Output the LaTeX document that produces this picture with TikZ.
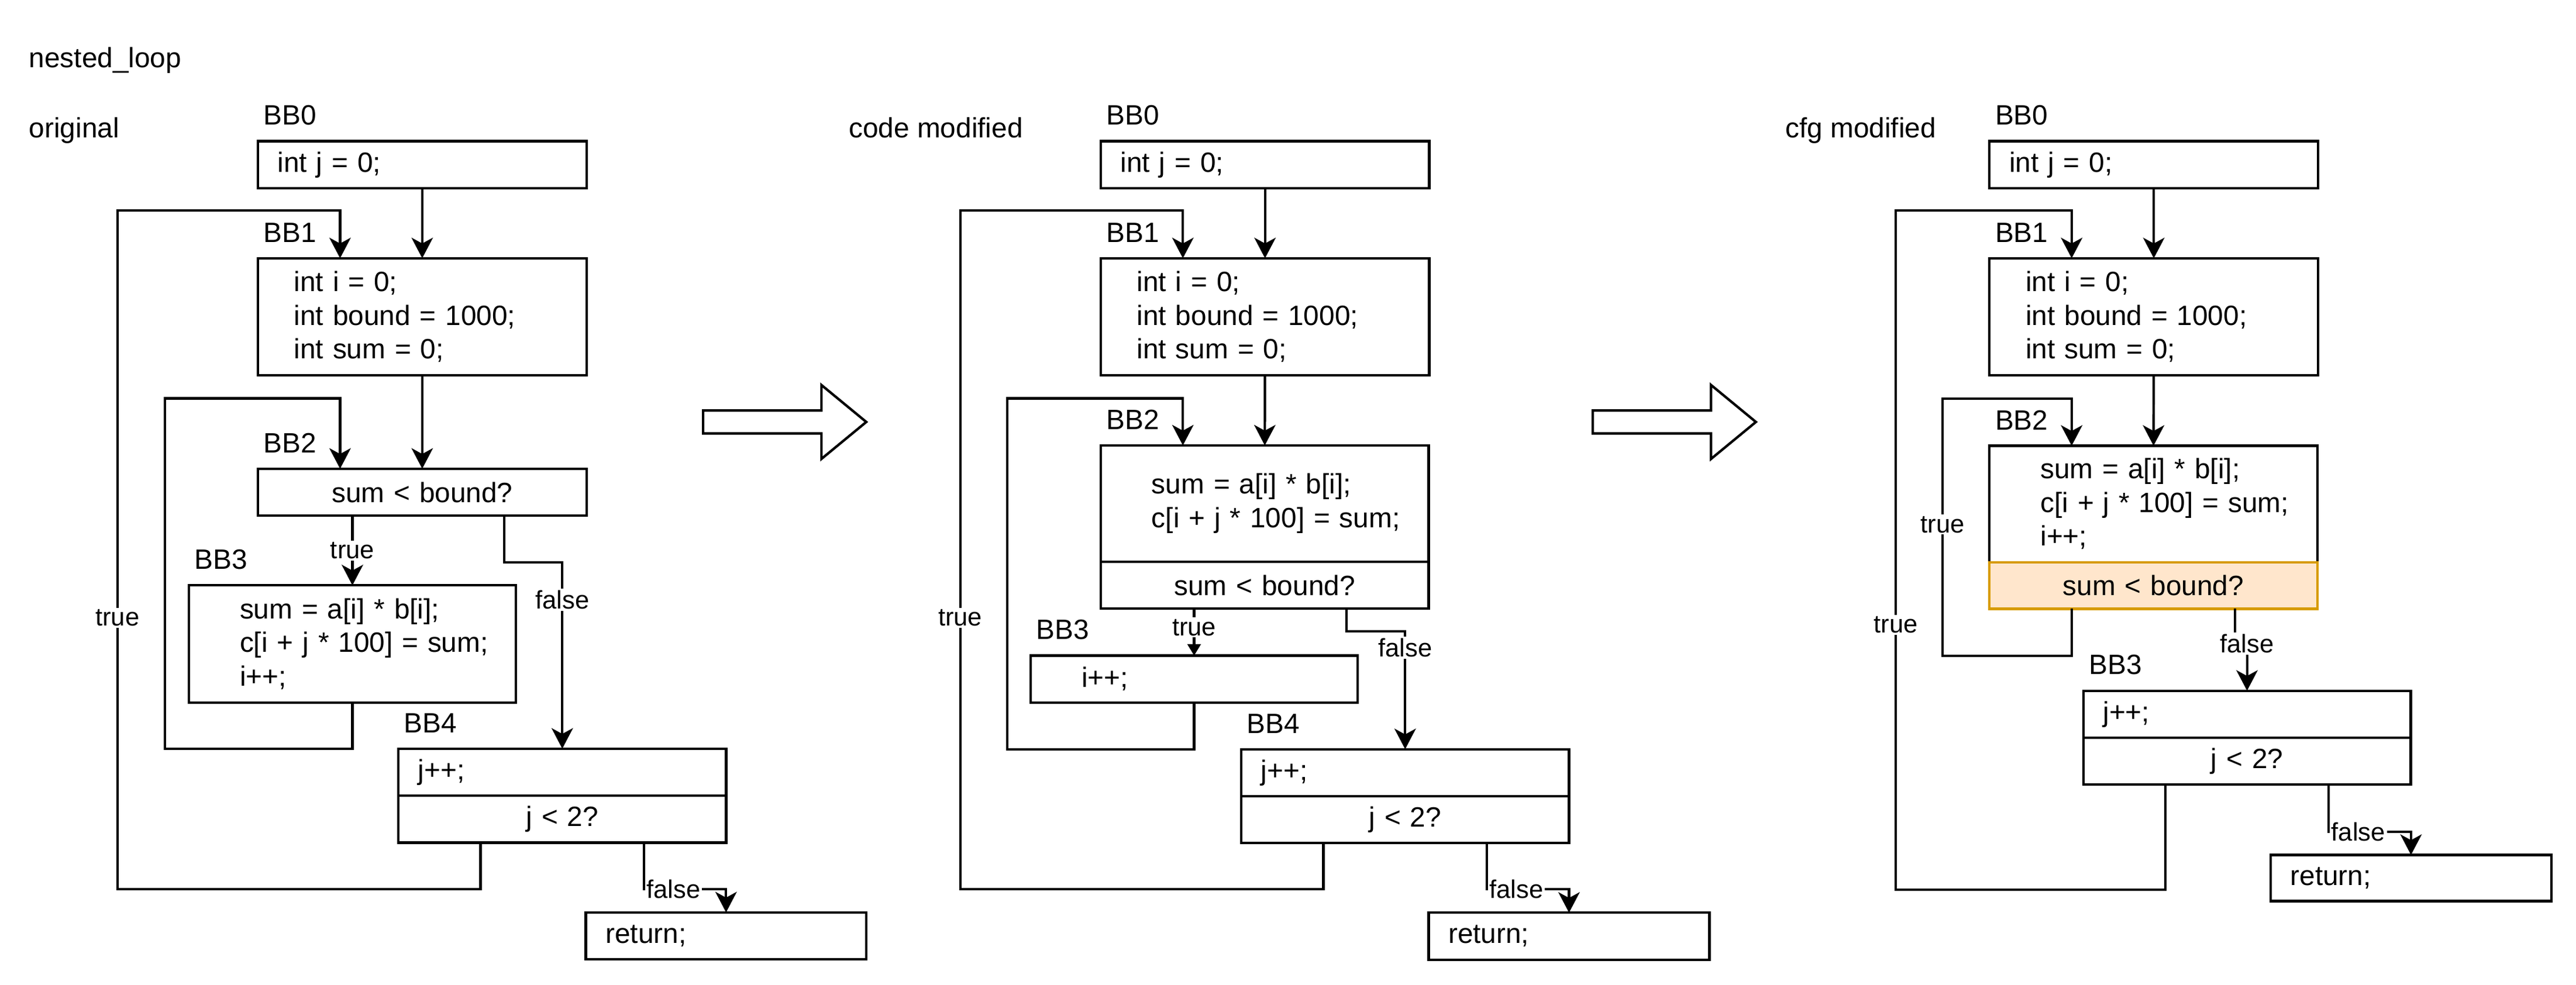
\documentclass[tikz,border=0pt]{standalone}
\usepackage{fontspec}
\setmainfont{Liberation Sans}
\usetikzlibrary{arrows.meta,positioning}
\definecolor{condfill}{HTML}{FFE6CC}
\definecolor{condline}{HTML}{D79B00}
\tikzset{
	bbox/.style = {draw, fill=white, rectangle, anchor=north west, outer sep=0pt, inner ysep=0pt, align=left, minimum height=28.6pt},
	stmt/.style 2 args = {bbox, text width=#1, inner xsep=#2},
	cond/.style = {bbox, align=center, inner xsep=0pt},
	hot/.style = {cond, fill=condfill, draw=condline},
	bbname/.style = {inner sep=0pt, anchor=base west},
	elabel/.style = {fill=white, inner sep=1pt, font=\fontsize{15.5}{18}\selectfont},
	flow/.style = {-{Stealth[length=12.5pt, width=13pt, inset=3.5pt]}},
	flowsmall/.style = {-{Triangle[length=7pt, width=8pt]}}
}
\begin{document}
\begin{tikzpicture}[x=1pt, y=-1pt, line width=1.5pt, font=\fontsize{17}{20.5}\selectfont]
	\useasboundingbox (0,0) rectangle (1568,599.6);
	\node[bbname] (title) at (17,41) {nested\_loop};
	\node[bbname] (orig) at (17,84) {original};
	\node[bbname] (codemod) at (516,84) {code modified};
	\node[bbname] (cfgmod) at (1086,84) {cfg modified};

	% original
	\node[stmt={176pt}{12pt}] (a0) at (157,86) {int j = 0;};
	\node[stmt={156pt}{22pt}, minimum height=71.4pt] (a1) at (157,157.3) {int i = 0;\\int bound = 1000;\\int sum = 0;};
	\node[cond, text width=200pt] (a2) at (157,285.5) {sum < bound?};
	\node[stmt={137pt}{31pt}, minimum height=71.5pt] (a3) at (115,356.5) {sum = a[i] * b[i];\\\mbox{c[i + j * 100] = sum;}\\i++;};
	\node[stmt={175.5pt}{12pt}] (a4t) at (242.5,456) {j++;};
	\node[cond, text width=199.5pt, below=0pt of a4t] (a4c) {j < 2?};
	\node[stmt={146.7pt}{12pt}] (ar) at (356.6,555.7) {return;};
	\node[bbname, above right=9pt and 2.7pt of a0.north west] (la0) {BB0};
	\node[bbname, above right=9pt and 2.7pt of a1.north west] (la1) {BB1};
	\node[bbname, above right=9pt and 2.7pt of a2.north west] (la2) {BB2};
	\node[bbname, above right=9pt and 2.7pt of a3.north west] (la3) {BB3};
	\node[bbname, above right=9pt and 2.7pt of a4t.north west] (la4) {BB4};
	\draw[flow] (a0) -- (a1);
	\draw[flow] (a1) -- (a2);
	\draw[flow] (a3.north |- a2.south) -- node[elabel] (at1) {true} (a3);
	\draw[flow] ([xshift=-50pt]a2.south east) -- ++(0,28.4) -| node[elabel, pos=0.6] (af1) {false} (a4t);
	\draw[flow] (a3.south) -- ++(0,28) -| (100.5,242.6) -| ([xshift=50pt]a2.north west);
	\draw[flow] ([xshift=50pt]a4c.south west) -- ++(0,28.4) -| node[elabel, pos=0.7] (at2) {true} (71.5,128.3) -| ([xshift=50pt]a1.north west);
	\draw[flow] ([xshift=-50pt]a4c.south east) -- ++(0,28.4) -| node[elabel, pos=0.18] (af2) {false} (ar);

	% code modified
	\draw (428,250) -- (500,250) -- (500,234.5) -- (527.3,257) -- (500,279.5) -- (500,264) -- (428,264) -- cycle;
	\node[stmt={176pt}{12pt}] (b0) at (670,86) {int j = 0;};
	\node[stmt={156pt}{22pt}, minimum height=71.4pt] (b1) at (670,157.3) {int i = 0;\\int bound = 1000;\\int sum = 0;};
	\node[stmt={137.6pt}{31pt}, minimum height=70.8pt] (b2t) at (670,271.3) {sum = a[i] * b[i];\\\mbox{c[i + j * 100] = sum;}};
	\node[cond, text width=199.6pt, below=0pt of b2t] (b2c) {sum < bound?};
	\node[stmt={136.9pt}{31pt}] (b3) at (627.4,399.3) {i++;};
	\node[stmt={175.6pt}{12pt}] (b4t) at (755.5,456.3) {j++;};
	\node[cond, text width=199.6pt, below=0pt of b4t] (b4c) {j < 2?};
	\node[stmt={146.9pt}{12pt}] (br) at (869.6,555.9) {return;};
	\node[bbname, above right=9pt and 2.7pt of b0.north west] (lb0) {BB0};
	\node[bbname, above right=9pt and 2.7pt of b1.north west] (lb1) {BB1};
	\node[bbname, above right=9pt and 2.7pt of b2t.north west] (lb2) {BB2};
	\node[bbname, above right=9pt and 2.7pt of b3.north west] (lb3) {BB3};
	\node[bbname, above right=9pt and 2.7pt of b4t.north west] (lb4) {BB4};
	\draw[flow] (b0) -- (b1);
	\draw[flow] (b1) -- (b2t);
	\draw[flowsmall] (b3.north |- b2c.south) -- node[elabel, pos=0.4] (bt1) {true} (b3);
	\draw[flow] ([xshift=-50pt]b2c.south east) -- ++(0,13.8) -| node[elabel, pos=0.57] (bf1) {false} (b4t);
	\draw[flow] (b3.south) -- ++(0,28.4) -| (613.1,242.6) -| ([xshift=50pt]b2t.north west);
	\draw[flow] ([xshift=50pt]b4c.south west) -- ++(0,28.1) -| node[elabel, pos=0.7] (bt2) {true} (584.5,128.3) -| ([xshift=50pt]b1.north west);
	\draw[flow] ([xshift=-50pt]b4c.south east) -- ++(0,28.1) -| node[elabel, pos=0.18] (bf2) {false} (br);

	% cfg modified
	\draw (969.5,250) -- (1041.5,250) -- (1041.5,234.5) -- (1068.8,257) -- (1041.5,279.5) -- (1041.5,264) -- (969.5,264) -- cycle;
	\node[stmt={176pt}{12pt}] (c0) at (1211,86) {int j = 0;};
	\node[stmt={156pt}{22pt}, minimum height=71.4pt] (c1) at (1211,157.3) {int i = 0;\\int bound = 1000;\\int sum = 0;};
	\node[stmt={137.5pt}{31pt}, minimum height=70.9pt] (c2t) at (1211,271.5) {sum = a[i] * b[i];\\\mbox{c[i + j * 100] = sum;}\\i++;};
	\node[hot, text width=199.5pt, minimum height=28.4pt, below=0pt of c2t] (c2c) {sum < bound?};
	\node[stmt={175.3pt}{12pt}] (c3t) at (1268.1,420.7) {j++;};
	\node[cond, text width=199.3pt, minimum height=28.4pt, below=0pt of c3t] (c3c) {j < 2?};
	\node[stmt={146.9pt}{12pt}, minimum height=28.1pt] (cr) at (1382.1,520.7) {return;};
	\node[bbname, above right=9pt and 2.7pt of c0.north west] (lc0) {BB0};
	\node[bbname, above right=9pt and 2.7pt of c1.north west] (lc1) {BB1};
	\node[bbname, above right=9pt and 2.7pt of c2t.north west] (lc2) {BB2};
	\node[bbname, above right=9pt and 2.7pt of c3t.north west] (lc3) {BB3};
	\draw[flow] (c0) -- (c1);
	\draw[flow] (c1) -- (c2t);
	\draw[flow] ([xshift=50pt]c2c.south west) -- ++(0,28.6) -| node[elabel, pos=0.755] (ct1) {true} (1182.5,242.7) -| ([xshift=50pt]c2t.north west);
	\draw[flow] ([xshift=-50pt]c2c.south east) -- ++(0,21.2) -| node[elabel, pos=0.5] (cf1) {false} (c3t);
	\draw[flow] ([xshift=50pt]c3c.south west) -- ++(0,64.1) -| node[elabel, pos=0.695] (ct2) {true} (1154,128.3) -| ([xshift=50pt]c1.north west);
	\draw[flow] ([xshift=-50pt]c3c.south east) -- ++(0,28.9) -| node[elabel, pos=0.18] (cf2) {false} (cr);
\end{tikzpicture}
\end{document}
